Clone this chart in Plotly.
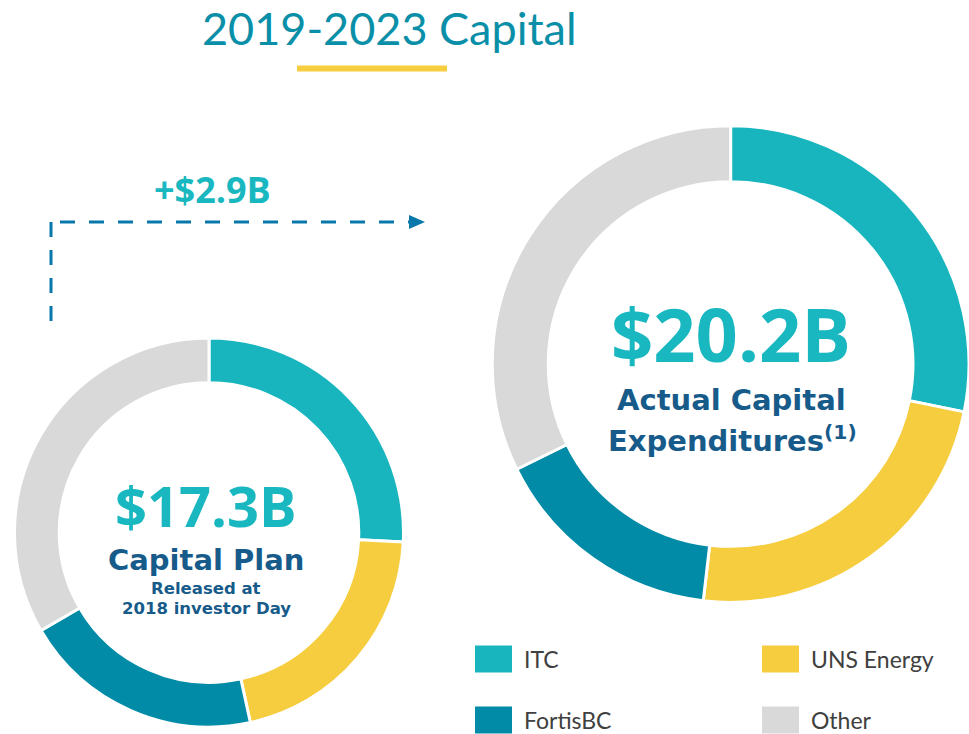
import plotly.graph_objects as go

W, H = 969, 734

segments = ["ITC", "UNS Energy", "FortisBC", "Other"]
colors = ["#18B5BF", "#F5CD3F", "#018BA7", "#D9D9D9"]
plan_2018 = [4.46, 3.60, 3.46, 5.78]      # $B, 2019-2023 plan (total 17.3)
actual = [5.70, 4.77, 3.21, 6.52]         # $B, actual capex (total 20.2)
plan_total = "$17.3B"
actual_total = "$20.2B"
increase = "+$2.9B"


def px(x):
    return x / W


def py(y):
    return 1 - y / H


fig = go.Figure()
fig.add_trace(go.Pie(
    labels=segments, values=plan_2018, hole=0.77, sort=False, direction="clockwise",
    rotation=0, marker=dict(colors=colors, line=dict(color="white", width=3)),
    textinfo="none", hoverinfo="label+value", showlegend=False,
    domain=dict(x=[px(209 - 194.5), px(209 + 194.5)], y=[py(727), py(338)]),
))
fig.add_trace(go.Pie(
    labels=segments, values=actual, hole=0.765, sort=False, direction="clockwise",
    rotation=0, marker=dict(colors=colors, line=dict(color="white", width=3)),
    textinfo="none", hoverinfo="label+value", showlegend=False,
    domain=dict(x=[0.508, 1.0], y=[py(603), py(125)]),
))

teal = "#19B7C0"
navy = "#175B8B"
ann = []


def text(x, y, s, size, color, family="Open Sans", xanchor="center"):
    ann.append(dict(x=px(x), y=py(y), xref="paper", yref="paper", text=s, showarrow=False,
                    xanchor=xanchor, yanchor="middle",
                    font=dict(size=size, color=color, family=family)))


text(389, 28, "2019-2023 Capital", 45, "#0A8FA8", "Lato")
text(212, 190, "<b>" + increase + "</b>", 36, teal)
text(206, 505, "<b>" + plan_total + "</b>", 56, teal)
text(206, 560, "<b>Capital Plan</b>", 29, navy, "DejaVu Sans")
text(206, 588, "<b>Released at</b>", 16.5, navy, "DejaVu Sans")
text(206, 608, "<b>2018 investor Day</b>", 16.5, navy, "DejaVu Sans")
text(731, 333, "<b>" + actual_total + "</b>", 74, teal)
text(731, 400, "<b>Actual Capital</b>", 29, navy, "DejaVu Sans")
text(732, 439, "<b>Expenditures<sup>(1)</sup></b>", 29, navy, "DejaVu Sans")

shapes = [
    dict(type="line", xref="paper", yref="paper", x0=px(297), x1=px(447), y0=py(68.5), y1=py(68.5),
         line=dict(color="#F5CD3F", width=6)),
    dict(type="line", xref="paper", yref="paper", x0=px(51), x1=px(51), y0=py(222), y1=py(330),
         line=dict(color="#0878AA", width=3, dash="15px,13px")),
    dict(type="line", xref="paper", yref="paper", x0=px(60), x1=px(410), y0=py(222), y1=py(222),
         line=dict(color="#0878AA", width=3, dash="15px,14px")),
    dict(type="path", xref="paper", yref="paper",
         path=f"M {px(409)} {py(215)} L {px(425)} {py(222)} L {px(409)} {py(229)} Z",
         fillcolor="#0878AA", line=dict(width=0)),
]

legend_pos = [(475, 659), (762, 659), (475, 720), (762, 720)]
for (lx, ly), name, col in zip(legend_pos, segments, colors):
    shapes.append(dict(type="rect", xref="paper", yref="paper",
                       x0=px(lx), x1=px(lx + 37), y0=py(ly - 13.5), y1=py(ly + 13.5),
                       fillcolor=col, line=dict(width=0)))
    text(lx + 47, ly, name, 23, "#404040", "Lato", xanchor="left")

fig.update_layout(
    width=W, height=H, margin=dict(l=0, r=0, t=0, b=0),
    paper_bgcolor="white", plot_bgcolor="white",
    annotations=ann, shapes=shapes,
)

fig.write_html("out.html", post_script="document.body.style.margin='0';",
               config={"displayModeBar": False})
